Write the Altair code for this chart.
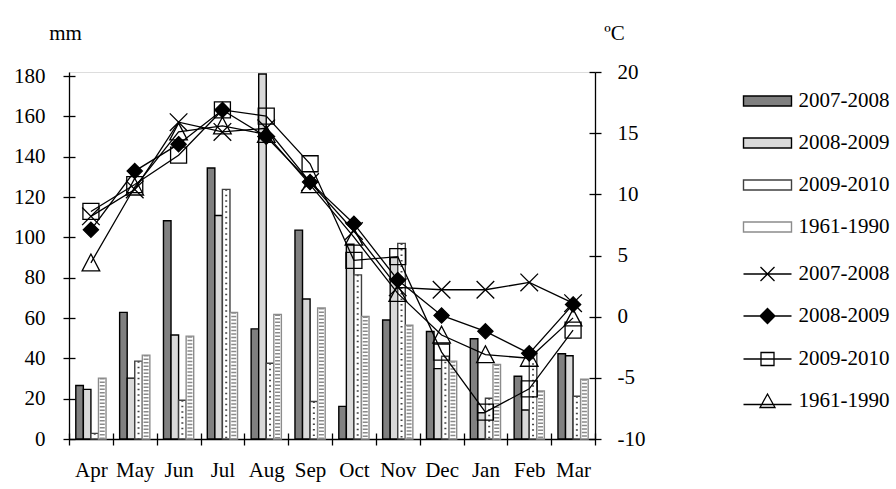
import altair as alt
import pandas as pd

months = ["Apr", "May", "Jun", "Jul", "Aug", "Sep", "Oct", "Nov", "Dec", "Jan", "Feb", "Mar"]
series = ["2007-2008", "2008-2009", "2009-2010", "1961-1990"]

# precipitation, mm (bars, left axis)
prec_0708 = [26.5, 62.8, 108.2, 134.4, 54.6, 103.6, 16.2, 59.0, 53.3, 49.7, 31.1, 42.3]
prec_0809 = [24.6, 30.2, 51.6, 110.8, 181.0, 69.4, 96.6, 90.0, 34.9, 13.0, 14.4, 41.3]
prec_0910 = [2.8, 38.6, 19.2, 123.8, 37.6, 18.6, 81.4, 97.0, 41.0, 20.2, 43.0, 21.2]
prec_6190 = [30.2, 41.6, 51.0, 62.8, 61.8, 65.0, 60.8, 56.4, 38.6, 37.0, 23.8, 29.6]

# temperature, degC (lines, right axis)
temp_0708 = [8.2, 10.4, 15.9, 15.1, 15.4, 11.0, 7.0, 2.4, 2.2, 2.2, 2.8, 1.1]
temp_0809 = [7.1, 11.9, 14.1, 16.9, 14.7, 11.0, 7.6, 3.0, 0.1, -1.2, -3.0, 1.0]
temp_0910 = [8.6, 10.8, 13.2, 16.9, 16.4, 12.5, 4.6, 4.9, -2.9, -7.8, -5.9, -1.1]
temp_6190 = [4.4, 10.6, 15.1, 15.6, 14.9, 10.8, 6.5, 1.9, -1.5, -3.1, -3.4, -0.1]

left_ticks = [0, 20, 40, 60, 80, 100, 120, 140, 160, 180]
right_ticks = [-10, -5, 0, 5, 10, 15, 20]

rows_p = []
for s, vals in zip(series, [prec_0708, prec_0809, prec_0910, prec_6190]):
    for m, v in zip(months, vals):
        rows_p.append({"month": m, "series": s, "mm": v})
dfp = pd.DataFrame(rows_p)

rows_t = []
for s, vals in zip(series, [temp_0708, temp_0809, temp_0910, temp_6190]):
    for m, v in zip(months, vals):
        rows_t.append({"month": m, "series": s, "lseries": s, "temp": v})
dft = pd.DataFrame(rows_t)

FONT = "Liberation Serif"
FS = 21
TICK = 6

bar_fill = ["#808080", "#d9d9d9", "#ffffff", "#ffffff"]
bar_stroke = ["#000000", "#000000", "#404040", "#8c8c8c"]

marker_paths = [
    "M-1.1,-1.1L1.1,1.1M-1.1,1.1L1.1,-1.1",
    "M0,-0.95L0.95,0L0,0.95L-0.95,0Z",
    "M-1,-1H1V1H-1Z",
    "M0,-1.1L1.1,1L-1.1,1Z",
]
marker_fill = ["transparent", "#000000", "transparent", "transparent"]
marker_stroke = ["#000000", "#000000", "#000000", "#000000"]

legend_paths = [
    "M-2.4,0H2.4M-0.7,-0.7L0.7,0.7M-0.7,0.7L0.7,-0.7",
    "M-2.4,0H-0.75M0.75,0H2.4M0,-0.75L0.75,0L0,0.75L-0.75,0Z",
    "M-2.4,0H2.4M-0.65,-0.65H0.65V0.65H-0.65Z",
    "M-2.4,0.35H2.4M0,-0.7L0.75,0.65L-0.75,0.65Z",
]
rect_path = "M-2.4,-0.5H2.4V0.5H-2.4Z"

line_props = dict(tickColor="black", tickWidth=1.3, domainColor="black", domainWidth=1.3, grid=False)
# inner half of the crossing ticks (an extra axis shifted into the plot)
inner_props = dict(title=None, labels=False, domain=True, domainOpacity=0, tickSize=TICK,
                   offset=-TICK, tickColor="black", tickWidth=1.3, grid=False)

x_scale = alt.Scale(domain=months, paddingInner=0, paddingOuter=0)
x_main = alt.X("month:N", sort=months, scale=x_scale, axis=alt.Axis(
    orient="bottom", title=None, labelAngle=0, tickBand="extent", labelFont=FONT, labelFontSize=FS,
    labelColor="black", labelPadding=14, tickSize=TICK, **line_props))
x_inner = alt.X("month:N", sort=months, scale=x_scale, axis=alt.Axis(
    orient="bottom", tickBand="extent", **inner_props))
x_none = alt.X("month:N", sort=months, scale=x_scale, axis=None)
xoff = alt.XOffset("series:N", sort=series, scale=alt.Scale(domain=series, paddingInner=0, paddingOuter=0.9))

left_scale = alt.Scale(domain=[0, 182], nice=False, zero=True)
y_left = alt.Y("mm:Q", scale=left_scale, axis=alt.Axis(
    orient="left", values=left_ticks, title="mm", titleAngle=0,
    titleX=-4, titleY=-39, titleAlign="center", titleBaseline="middle",
    titleFont=FONT, titleFontSize=FS, titleFontWeight="normal", titleColor="black",
    labelFont=FONT, labelFontSize=FS, labelColor="black", labelPadding=18,
    tickSize=TICK, **line_props))
y_left_inner = alt.Y("mm:Q", scale=left_scale, axis=alt.Axis(
    orient="left", values=left_ticks, **inner_props))
y_left_none = alt.Y("mm:Q", scale=left_scale, axis=None)

right_scale = alt.Scale(domain=[-10, 20], nice=False, zero=False)
y_right = alt.Y("temp:Q", scale=right_scale, axis=alt.Axis(
    orient="right", values=right_ticks, title="ºC", titleAngle=0,
    titleX=19, titleY=-39, titleAlign="center", titleBaseline="middle",
    titleFont=FONT, titleFontSize=FS, titleFontWeight="normal", titleColor="black",
    labelFont=FONT, labelFontSize=FS, labelColor="black", labelPadding=16,
    labelExpr="datum.value < 0 ? '-' + (-datum.value) : '' + datum.value",
    tickSize=TICK, **line_props))
y_right_inner = alt.Y("temp:Q", scale=right_scale, axis=alt.Axis(
    orient="right", values=right_ticks, **inner_props))
y_right_none = alt.Y("temp:Q", scale=right_scale, axis=None)

leg_bars = alt.Legend(
    orient="none", legendX=687.5, legendY=18, title=None, symbolType=rect_path,
    symbolSize=400, labelFont=FONT, labelFontSize=FS, labelColor="black",
    labelOffset=20, rowPadding=21, padding=0, symbolStrokeWidth=1.4,
)
leg_lines = alt.Legend(
    orient="none", legendX=687.5, legendY=191, title=None, symbolSize=400,
    labelFont=FONT, labelFontSize=FS, labelColor="black", labelOffset=20,
    rowPadding=21, padding=0, symbolStrokeWidth=1.3, symbolStrokeColor="black",
)

bars = alt.Chart(dfp).mark_bar(strokeWidth=1.4).encode(
    x=x_main, xOffset=xoff, y=y_left,
    fill=alt.Fill("series:N", sort=series, scale=alt.Scale(domain=series, range=bar_fill), legend=leg_bars),
    stroke=alt.Stroke("series:N", sort=series, scale=alt.Scale(domain=series, range=bar_stroke), legend=leg_bars),
)

dots = alt.Chart(dfp).transform_filter(alt.datum.series == "2009-2010").mark_rule(
    strokeDash=[1.5, 4], strokeWidth=2, color="#444444"
).encode(x=x_none, xOffset=xoff, y=y_left_inner, y2=alt.datum(0))

hatch = alt.Chart(dfp).transform_filter(alt.datum.series == "1961-1990").mark_rule(
    strokeDash=[1.5, 2], strokeWidth=5, color="#8a8a8a"
).encode(x=x_none, xOffset=xoff, y=y_left_none, y2=alt.datum(0))

lines = alt.Chart(dft).mark_line(color="black", strokeWidth=1.3).encode(
    x=x_inner, y=y_right, detail="series:N"
)

points = alt.Chart(dft).mark_point(filled=True, size=256, stroke="black", strokeWidth=1.3, opacity=1).encode(
    x=x_none, y=y_right_inner,
    shape=alt.Shape("series:N", scale=alt.Scale(domain=series, range=marker_paths), legend=None),
    fill=alt.Fill("series:N", scale=alt.Scale(domain=series, range=marker_fill), legend=None),
)

# legend-only layer: no rows survive the filter, the legend comes from the fixed scale domain
legend_layer = alt.Chart(dft).transform_filter("false").mark_point(
    filled=True, size=400, strokeWidth=1.3, opacity=1
).encode(
    x=x_none, y=y_right_none,
    shape=alt.Shape("lseries:N", scale=alt.Scale(domain=series, range=legend_paths), legend=leg_lines),
    fill=alt.Fill("lseries:N", scale=alt.Scale(domain=series, range=marker_fill), legend=leg_lines),
    stroke=alt.Stroke("lseries:N", scale=alt.Scale(domain=series, range=marker_stroke), legend=leg_lines),
)

chart = alt.layer(bars, dots, hatch, lines, points, legend_layer).resolve_scale(
    x="independent", y="independent", fill="independent", stroke="independent", shape="independent"
).properties(
    width=526, height=367,
    autosize=alt.AutoSizeParams(type="none"),
    padding={"left": 69, "top": 72, "right": 301, "bottom": 50},
).configure_view(stroke=None).configure(background="white")

chart.save("out.html", embed_options={"renderer": "svg", "actions": False})
